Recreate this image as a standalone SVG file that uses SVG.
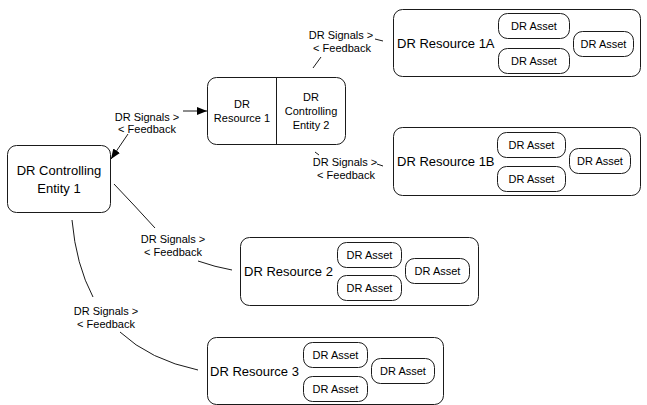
<svg xmlns="http://www.w3.org/2000/svg" width="647" height="405" viewBox="0 0 647 405">
<defs>
<style>
.box{fill:#fff;stroke:#1a1a1a;stroke-width:1}
.t13{font-family:"Liberation Sans",Arial,sans-serif;font-size:13px;fill:#000}
.t11{font-family:"Liberation Sans",Arial,sans-serif;font-size:11px;fill:#000}
.c{text-anchor:middle}
.ln{fill:none;stroke:#1a1a1a;stroke-width:1}
</style>
<marker id="arr" viewBox="0 0 10 8" refX="10" refY="4" markerWidth="10" markerHeight="8" markerUnits="userSpaceOnUse" orient="auto">
<path d="M0,0 L10,4 L0,8 Z" fill="#000"/>
</marker>
</defs>
<rect width="647" height="405" fill="#fff"/>

<g id="connectors">
<line class="ln" x1="128" y1="134" x2="111" y2="159" marker-end="url(#arr)"/>
<line class="ln" x1="183" y1="111" x2="207" y2="111" marker-end="url(#arr)"/>
<text class="t11 c" x="147" y="121">DR Signals &gt;</text>
<text class="t11 c" x="147" y="133">&lt; Feedback</text>

<line class="ln" x1="313" y1="68" x2="321" y2="57"/>
<line class="ln" x1="375" y1="39" x2="383" y2="41"/>
<text class="t11 c" x="341" y="39">DR Signals &gt;</text>
<text class="t11 c" x="342" y="52">&lt; Feedback</text>

<line class="ln" x1="315" y1="152" x2="319" y2="155"/>
<line class="ln" x1="377" y1="164" x2="383" y2="166"/>
<text class="t11 c" x="345" y="166">DR Signals &gt;</text>
<text class="t11 c" x="346" y="179">&lt; Feedback</text>

<path class="ln" d="M114,184 Q135,206 155,228"/>
<path class="ln" d="M198,261 Q215,267 232,270"/>
<text class="t11 c" x="173" y="243">DR Signals &gt;</text>
<text class="t11 c" x="173" y="256">&lt; Feedback</text>

<path class="ln" d="M72,220 Q76,265 93,297"/>
<path class="ln" d="M120,332 Q150,360 198,370"/>
<text class="t11 c" x="106" y="315">DR Signals &gt;</text>
<text class="t11 c" x="106" y="328">&lt; Feedback</text>
</g>

<g id="ce1">
<rect class="box" x="7.5" y="145.5" width="103" height="67" rx="9"/>
<text class="t13 c" x="59" y="175">DR Controlling</text>
<text class="t13 c" x="59" y="193">Entity 1</text>
</g>

<g id="r1ce2">
<rect class="box" x="207.5" y="77.5" width="138" height="67" rx="9"/>
<line class="ln" x1="276.5" y1="77.5" x2="276.5" y2="144.5"/>
<text class="t11 c" x="242" y="108">DR</text>
<text class="t11 c" x="242" y="122">Resource 1</text>
<text class="t11 c" x="311" y="101">DR</text>
<text class="t11 c" x="311" y="115">Controlling</text>
<text class="t11 c" x="311" y="129">Entity 2</text>
</g>

<g id="r1a">
<rect class="box" x="393.5" y="9.5" width="247" height="67" rx="9"/>
<text class="t13" x="397" y="48">DR Resource 1A</text>
<rect class="box" x="498.5" y="13.5" width="71" height="25" rx="9"/>
<text class="t11 c" x="534" y="30">DR Asset</text>
<rect class="box" x="498.5" y="48.5" width="71" height="25" rx="9"/>
<text class="t11 c" x="534" y="65">DR Asset</text>
<rect class="box" x="573.5" y="31.5" width="60" height="25" rx="9"/>
<text class="t11 c" x="603.5" y="48">DR Asset</text>
</g>

<g id="r1b">
<rect class="box" x="393.5" y="127.5" width="247" height="68" rx="9"/>
<text class="t13" x="397" y="166">DR Resource 1B</text>
<rect class="box" x="497.5" y="132.5" width="68" height="25" rx="9"/>
<text class="t11 c" x="531.5" y="149">DR Asset</text>
<rect class="box" x="497.5" y="166.5" width="68" height="25" rx="9"/>
<text class="t11 c" x="531.5" y="183">DR Asset</text>
<rect class="box" x="569.5" y="148.5" width="61" height="25" rx="9"/>
<text class="t11 c" x="600" y="165">DR Asset</text>
</g>

<g id="r2">
<rect class="box" x="240.5" y="237.5" width="238" height="68" rx="9"/>
<text class="t13" x="244" y="276">DR Resource 2</text>
<rect class="box" x="337.5" y="242.5" width="64" height="25" rx="9"/>
<text class="t11 c" x="369.5" y="259">DR Asset</text>
<rect class="box" x="337.5" y="275.5" width="64" height="25" rx="9"/>
<text class="t11 c" x="369.5" y="292">DR Asset</text>
<rect class="box" x="405.5" y="258.5" width="64" height="25" rx="9"/>
<text class="t11 c" x="437.5" y="275">DR Asset</text>
</g>

<g id="r3">
<rect class="box" x="207.5" y="337.5" width="236" height="67" rx="9"/>
<text class="t13" x="210" y="376">DR Resource 3</text>
<rect class="box" x="303.5" y="342.5" width="64" height="25" rx="9"/>
<text class="t11 c" x="335.5" y="359">DR Asset</text>
<rect class="box" x="303.5" y="376.5" width="64" height="25" rx="9"/>
<text class="t11 c" x="335.5" y="393">DR Asset</text>
<rect class="box" x="371.5" y="358.5" width="63" height="25" rx="9"/>
<text class="t11 c" x="403" y="375">DR Asset</text>
</g>
</svg>
